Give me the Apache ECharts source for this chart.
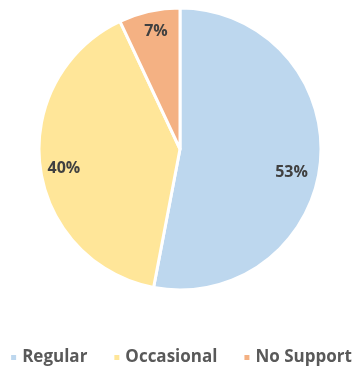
<!DOCTYPE html>
<html>
<head>
<meta charset="utf-8">
<script src="https://cdn.jsdelivr.net/npm/echarts@6/dist/echarts.min.js"></script>
<style>
  html, body { margin: 0; padding: 0; background: #fff; }
  #chart { width: 361px; height: 377px; }
</style>
</head>
<body>
<div id="chart"></div>
<script>
var categories = ['Regular', 'Occasional', 'No Support'];
var shares = [53, 40, 7];
var colors = ['#BDD7EE', '#FFE699', '#F4B183'];
// small nudges so labels sit where the original put them
var labelOffsets = [[-3, 13], [-2, 5], [1, -5]];

var pieData = categories.map(function (name, i) {
    return { name: name, value: shares[i] };
});
var labelData = categories.map(function (name, i) {
    return { name: name, value: shares[i], label: { offset: labelOffsets[i] } };
});

var chart = echarts.init(document.getElementById('chart'));
chart.setOption({
    animation: false,
    color: colors,
    legend: {
        bottom: 6,
        left: 'center',
        padding: [5, 0, 5, 11],
        itemWidth: 7,
        itemHeight: 7,
        itemGap: 25,
        icon: 'rect',
        textStyle: { color: '#595959', fontSize: 17, fontWeight: 'bold', fontFamily: 'Open Sans' },
        data: categories
    },
    series: [
        {
            type: 'pie',
            center: [180, 149],
            radius: 141,
            startAngle: 90,
            clockwise: true,
            data: pieData,
            label: { show: false },
            labelLine: { show: false },
            itemStyle: { borderColor: '#fff', borderWidth: 3 }
        },
        {
            // transparent ring only used to place the labels near the rim
            type: 'pie',
            center: [180, 149],
            radius: [83, 141],
            startAngle: 90,
            clockwise: true,
            silent: true,
            legendHoverLink: false,
            data: labelData,
            itemStyle: { color: 'transparent', borderWidth: 0 },
            label: {
                show: true,
                position: 'inside',
                formatter: '{c}%',
                color: '#404040',
                fontSize: 16,
                fontWeight: 'bold',
                fontFamily: 'Open Sans'
            },
            labelLine: { show: false }
        }
    ]
});
</script>
</body>
</html>
